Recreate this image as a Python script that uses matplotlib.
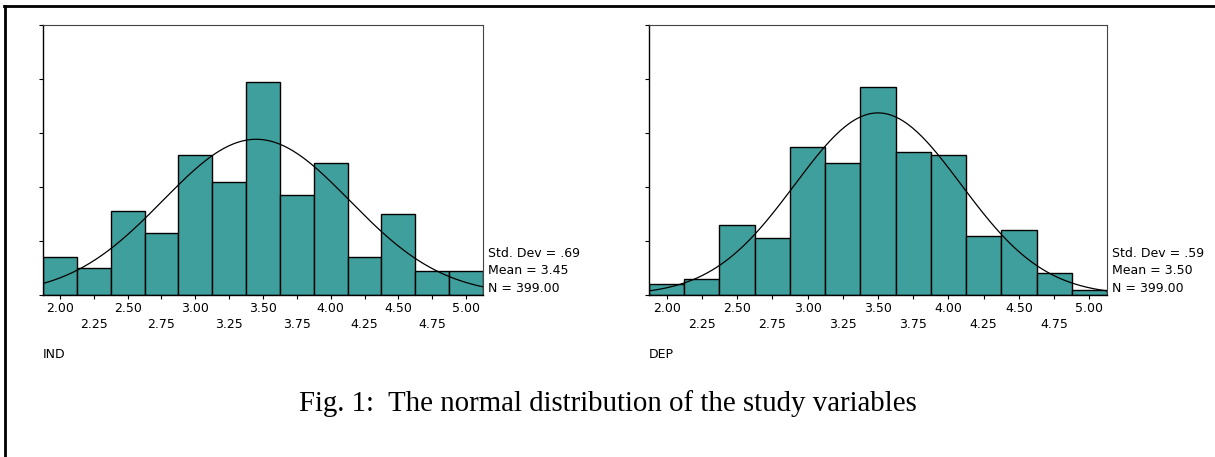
import numpy as np
import matplotlib
matplotlib.use("Agg")
import matplotlib.pyplot as plt
from matplotlib.lines import Line2D
from matplotlib.ticker import FixedLocator, FixedFormatter

# bin centres (width .25) and counts
bin_centers = [2.00, 2.25, 2.50, 2.75, 3.00, 3.25, 3.50, 3.75, 4.00, 4.25, 4.50, 4.75, 5.00]
ind_counts = [14, 10, 31, 23, 52, 42, 79, 37, 49, 14, 30, 9, 9]
dep_counts = [4, 6, 26, 21, 55, 49, 77, 53, 52, 22, 24, 8, 2]

ind_stats = {"sd": 0.69, "mean": 3.45, "n": 399}
dep_stats = {"sd": 0.59, "mean": 3.50, "n": 399}

BIN_WIDTH = 0.25
BAR_COLOR = "#3f9f9c"
SANS = "DejaVu Sans"
SERIF = "Liberation Serif"
FS = 9


def draw_hist(ax, counts, stats, name):
    ax.bar(bin_centers, counts, width=BIN_WIDTH, color=BAR_COLOR,
           edgecolor="black", linewidth=1.0, zorder=2)

    # fitted normal curve scaled to counts
    xs = np.linspace(bin_centers[0] - BIN_WIDTH / 2, bin_centers[-1] + BIN_WIDTH / 2, 300)
    dens = np.exp(-0.5 * ((xs - stats["mean"]) / stats["sd"]) ** 2) / (stats["sd"] * np.sqrt(2 * np.pi))
    ax.plot(xs, dens * stats["n"] * BIN_WIDTH, color="black", linewidth=0.9, zorder=3)

    ax.set_xlim(bin_centers[0] - BIN_WIDTH / 2, bin_centers[-1] + BIN_WIDTH / 2)
    ax.set_ylim(0, 100)
    ax.set_yticks([0, 20, 40, 60, 80, 100])
    ax.set_yticklabels([])
    ax.tick_params(axis="y", length=3, width=0.8, direction="out")

    major = bin_centers[0::2]
    minor = bin_centers[1::2]
    ax.xaxis.set_major_locator(FixedLocator(major))
    ax.xaxis.set_minor_locator(FixedLocator(minor))
    ax.xaxis.set_major_formatter(FixedFormatter([f"{v:.2f}" for v in major]))
    ax.xaxis.set_minor_formatter(FixedFormatter([f"{v:.2f}" for v in minor]))
    ax.tick_params(axis="x", which="major", length=3, width=0.8, pad=2.3, labelsize=FS)
    ax.tick_params(axis="x", which="minor", length=3, width=0.8, pad=13.8, labelsize=FS)
    for lab in ax.get_xticklabels(which="both"):
        lab.set_fontfamily(SANS)

    for side in ["left", "bottom"]:
        ax.spines[side].set_linewidth(1.0)
    for side in ["top", "right"]:
        ax.spines[side].set_linewidth(0.8)
        ax.spines[side].set_color("#444444")

    lines = [f"Std. Dev = {stats['sd']:.2f}".replace("0.", "."),
             f"Mean = {stats['mean']:.2f}",
             f"N = {stats['n']:.2f}"]
    for i, txt in enumerate(lines):
        ax.text(1.012, 0.155 - i * 0.065, txt, transform=ax.transAxes,
                fontsize=FS, family=SANS, va="center", ha="left")

    ax.text(0.0, -(355 - 295) / 270, name, transform=ax.transAxes, fontsize=FS,
            family=SANS, va="center", ha="left")


fig = plt.figure(figsize=(12.15, 4.57), dpi=100)

ax1 = fig.add_axes([43 / 1215, 1 - 295 / 457, 440 / 1215, 270 / 457])
ax2 = fig.add_axes([649 / 1215, 1 - 295 / 457, 458 / 1215, 270 / 457])

draw_hist(ax1, ind_counts, ind_stats, "IND")
draw_hist(ax2, dep_counts, dep_stats, "DEP")

fig.text(608 / 1215, 1 - 404 / 457, "Fig. 1:  The normal distribution of the study variables",
         ha="center", va="center", fontsize=20.8, family=SERIF)

# page frame (top and left edges)
fig.add_artist(Line2D([4 / 1215, 1], [1 - 6 / 457, 1 - 6 / 457], color="black", linewidth=2))
fig.add_artist(Line2D([5 / 1215, 5 / 1215], [0, 1 - 6 / 457], color="black", linewidth=2))

fig.savefig("out.png", dpi=100)
